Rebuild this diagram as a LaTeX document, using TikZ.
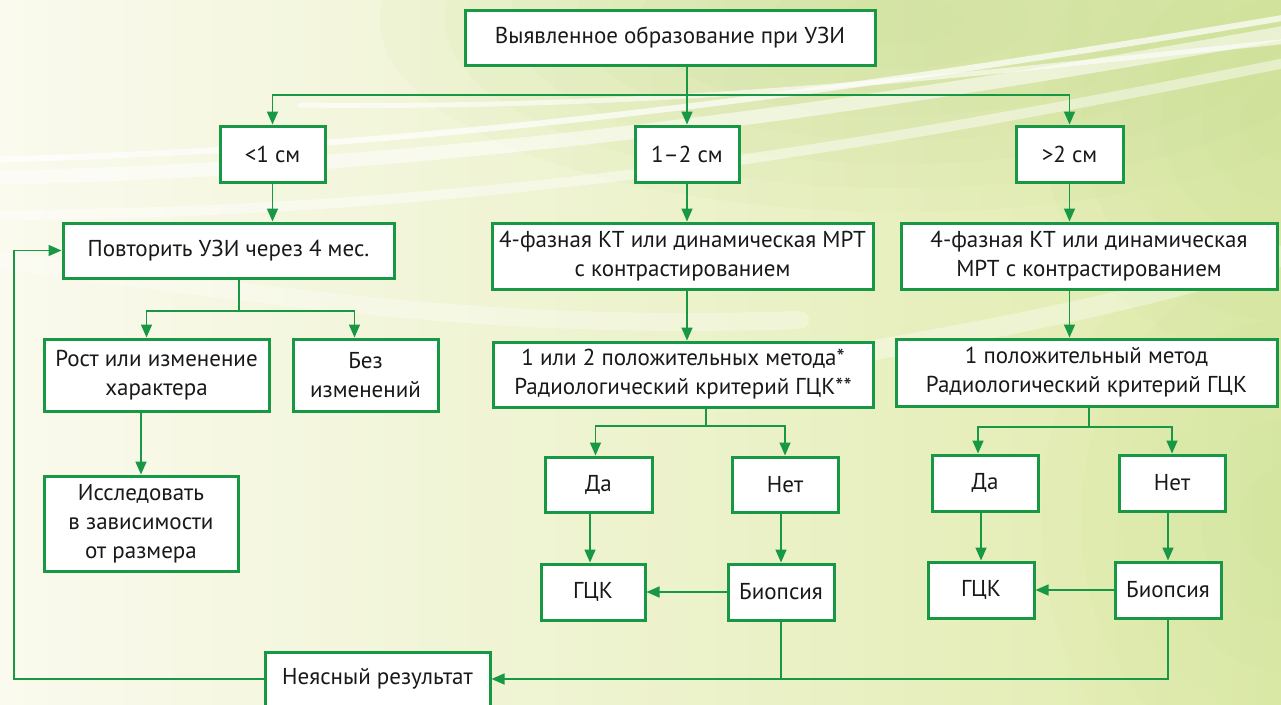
\documentclass[tikz,border=0pt]{standalone}
\usepackage{fontspec}
\setmainfont{PT Sans}
\usetikzlibrary{arrows.meta,calc}
\definecolor{gr}{RGB}{24,152,68}
\definecolor{bgL}{RGB}{250,250,238}
\definecolor{bgR}{RGB}{224,235,172}
\definecolor{glow}{RGB}{196,220,142}
\tikzset{
  box/.style={draw=gr, line width=3pt, fill=white, align=center, inner sep=0pt,
    font=\fontsize{23}{29}\selectfont, text=black!90},
  conn/.style={draw=gr, line width=1.6pt},
  arr/.style={conn, -{Triangle[length=13pt,width=11pt]}},
  streak/.style={draw=white, line cap=round},
}
\begin{document}
\begin{tikzpicture}[x=1pt,y=-1pt]
\useasboundingbox (0,0) rectangle (1281,704);
% background
\shade[left color=bgL, right color=bgR] (0,0) rectangle (1281,704);
\begin{scope}
  \clip (0,0) rectangle (1281,704);
  \foreach \r in {1,...,8}{
    \fill[glow, opacity=0.08] (900,20) ellipse ({65*\r} and {24*\r});
  }
  \foreach \r in {1,...,6}{
    \fill[glow, opacity=0.07] (1281,120) ellipse ({40*\r} and {40*\r});
  }
  \foreach \r in {1,...,6}{
    \fill[glow, opacity=0.06] (1281,520) ellipse ({40*\r} and {50*\r});
  }
  \draw[streak, line width=14pt, opacity=0.55] (-20,178) .. controls (400,170) and (800,120) .. (1300,30);
  \draw[streak, line width=6pt, opacity=0.7] (-20,160) .. controls (400,150) and (800,100) .. (1300,15);
  \draw[streak, line width=10pt, opacity=0.45] (-20,215) .. controls (500,215) and (900,140) .. (1300,60);
  \draw[streak, line width=5pt, opacity=0.6] (300,105) .. controls (700,110) and (1000,70) .. (1300,40);
  \draw[streak, line width=20pt, opacity=0.35] (700,380) .. controls (1000,330) and (1150,300) .. (1300,250);
  \draw[streak, line width=18pt, opacity=0.3] (0,260) .. controls (300,300) and (500,330) .. (800,320);
\end{scope}

% nodes
\node[box, minimum width=410pt, minimum height=55pt] (top) at (670,37.5) {Выявленное образование при УЗИ};
\node[box, minimum width=105pt, minimum height=56pt] (s1) at (272.5,154) {<1 см};
\node[box, minimum width=104pt, minimum height=56pt] (s2) at (687,154) {1–2 см};
\node[box, minimum width=107pt, minimum height=56pt] (s3) at (1069.5,154) {>2 см};
\node[box, minimum width=331pt, minimum height=55pt] (rep) at (228.5,250.5) {Повторить УЗИ через 4 мес.};
\node[box, minimum width=381pt, minimum height=66pt] (kt2) at (682.5,256) {4-фазная КТ или динамическая МРТ\\с контрастированием};
\node[box, minimum width=376pt, minimum height=66pt] (kt3) at (1089,256) {4-фазная КТ или динамическая\\МРТ с контрастированием};
\node[box, minimum width=225pt, minimum height=72pt] (grow) at (156.5,375) {Рост или изменение\\характера};
\node[box, minimum width=145pt, minimum height=72pt] (same) at (365.5,375) {Без\\изменений};
\node[box, minimum width=194pt, minimum height=95pt] (inv) at (141,523.5) {Исследовать\\в зависимости\\от размера};
\node[box, minimum width=380pt, minimum height=65pt] (pos2) at (683,374.5) {1 или 2 положительных метода*\\Радиологический критерий ГЦК**};
\node[box, minimum width=381pt, minimum height=67pt] (pos3) at (1086.5,372.5) {1 положительный метод\\Радиологический критерий ГЦК};
\node[box, minimum width=107pt, minimum height=55pt] (da2) at (598.5,484.5) {Да};
\node[box, minimum width=106pt, minimum height=55pt] (net2) at (785,484.5) {Нет};
\node[box, minimum width=106pt, minimum height=56pt] (da3) at (985,483) {Да};
\node[box, minimum width=106pt, minimum height=56pt] (net3) at (1172,483) {Нет};
\node[box, minimum width=104pt, minimum height=56pt] (hcc2) at (593,592) {ГЦК};
\node[box, minimum width=106pt, minimum height=56pt] (bio2) at (781,592) {Биопсия};
\node[box, minimum width=106pt, minimum height=56pt] (hcc3) at (981,590) {ГЦК};
\node[box, minimum width=106pt, minimum height=56pt] (bio3) at (1168,590) {Биопсия};
\node[box, minimum width=225pt, minimum height=54pt] (unc) at (377.5,679) {Неясный результат};

% junctions
\coordinate (j0) at (687,95);
\coordinate (j1) at (239,311);
\coordinate (j2) at (706,426);
\coordinate (j3) at (1089,427);
\coordinate (fb) at (14,0);

% connectors
\draw[arr] (top.south -| s2.north) -- (s2.north);
\draw[arr] (j0) -| (s1.north);
\draw[arr] (j0) -| (s3.north);
\draw[arr] (s1.south) -- (s1.south |- rep.north);
\draw[arr] (s2.south) -- (s2.south |- kt2.north);
\draw[arr] (s3.south) -- (s3.south |- kt3.north);
\draw[arr] (kt2.south -| s2.south) -- (pos2.north -| s2.south);
\draw[arr] (kt3.south -| s3.south) -- (pos3.north -| s3.south);

\draw[conn] (rep.south -| j1) -- (j1);
\draw[arr] (j1) -| ([xshift=-10pt]grow.north);
\draw[arr] (j1) -| ([xshift=-11pt]same.north);
\draw[arr] (grow.south -| inv.north) -- (inv.north);

\draw[conn] (pos2.south -| j2) -- (j2);
\draw[arr] (j2) -| ([xshift=-3pt]da2.north);
\draw[arr] (j2) -| (net2.north);
\draw[conn] (pos3.south -| j3) -- (j3);
\draw[arr] (j3) -| ([xshift=-7pt]da3.north);
\draw[arr] (j3) -| (net3.north);

\draw[arr] ([xshift=-3pt]da2.south -| hcc2.north) -- ([xshift=-3pt]hcc2.north);
\draw[arr] (net2.south -| bio2.north) -- (bio2.north);
\draw[arr] (da3.south -| hcc3.north) -- (hcc3.north);
\draw[arr] (net3.south -| bio3.north) -- (bio3.north);
\draw[arr] (bio2.west) -- (hcc2.east);
\draw[arr] (bio3.west) -- (hcc3.east);

\draw[arr] (bio3.south) |- (unc.east);
\draw[conn] (bio2.south) -- (bio2.south |- unc.east);
\draw[arr] (unc.west) -- (fb |- unc.west) -- (fb |- rep.west) -- (rep.west);
\end{tikzpicture}
\end{document}
